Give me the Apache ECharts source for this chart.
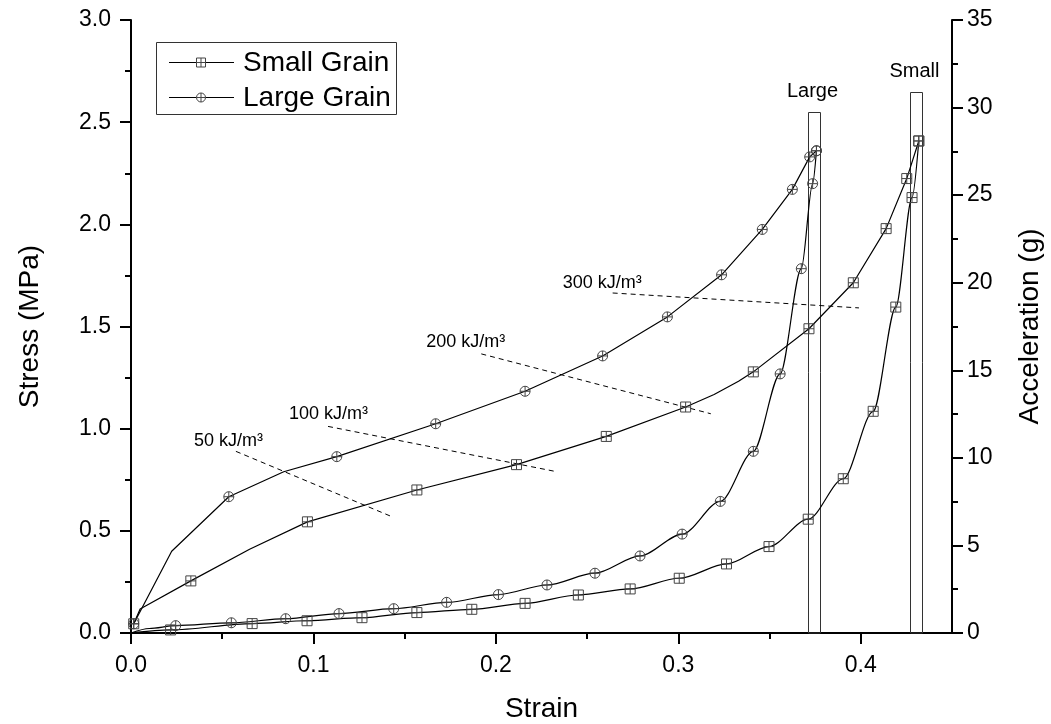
<!DOCTYPE html>
<html><head><meta charset="utf-8">
<script src="https://cdn.jsdelivr.net/npm/echarts@6/dist/echarts.min.js"></script>
<style>html,body{margin:0;padding:0;background:#fff}#c{width:1051px;height:724px}</style>
</head><body><div id="c"></div>
<script>
// ---------- data ----------
const xAxisName = 'Strain';
const yLeftName = 'Stress (MPa)';
const yRightName = 'Acceleration (g)';
const xTickValues = [0, 0.1, 0.2, 0.3, 0.4];

const seriesNames = ['Small Grain', 'Large Grain'];

// stress (upper) curves
const smallStress = [[0.0015,0.045],[0.005,0.117],[0.0328,0.255],[0.065,0.41],[0.0967,0.544],[0.1567,0.70],[0.2113,0.824],[0.2605,0.962],[0.304,1.106],[0.3196,1.167],[0.333,1.232],[0.3411,1.278],[0.3716,1.489],[0.3959,1.714],[0.4139,1.979],[0.4252,2.224],[0.4318,2.408]];
const smallStressMarks = [0,2,4,5,6,7,8,11,12,13,14,15,16];
const largeStress = [[0.0015,0.045],[0.0223,0.40],[0.0536,0.667],[0.0837,0.789],[0.1128,0.863],[0.167,1.024],[0.216,1.183],[0.2585,1.356],[0.294,1.547],[0.3237,1.753],[0.346,1.975],[0.3625,2.171],[0.372,2.33],[0.3757,2.36]];
const largeStressMarks = [0,2,4,5,6,7,8,9,10,11,12,13];

// lower curves
const largeLower = [[0,0],[0.01,0.022],[0.0245,0.036],[0.055,0.05],[0.0848,0.07],[0.114,0.095],[0.144,0.119],[0.173,0.150],[0.2014,0.188],[0.228,0.235],[0.2543,0.2926],[0.279,0.377],[0.3021,0.484],[0.323,0.644],[0.3411,0.889],[0.3558,1.268],[0.3674,1.783],[0.3736,2.199],[0.3757,2.36]];
const largeLowerMarks = [2,3,4,5,6,7,8,9,10,11,12,13,14,15,16,17,18];
const smallLower = [[0,0],[0.0217,0.015],[0.0664,0.046],[0.0965,0.06],[0.1266,0.075],[0.1567,0.10],[0.1868,0.116],[0.216,0.145],[0.2452,0.186],[0.2736,0.2157],[0.3005,0.268],[0.3264,0.338],[0.3497,0.423],[0.3712,0.557],[0.3904,0.755],[0.4068,1.085],[0.4192,1.595],[0.4281,2.131],[0.4318,2.408]];
const smallLowerMarks = [1,2,3,4,5,6,7,8,9,10,11,12,13,14,15,16,17,18];

// energy iso-lines
const energyLabels = ['50 kJ/m³', '100 kJ/m³', '200 kJ/m³', '300 kJ/m³'];
const energyLines = [
  [[0.0575,0.889],[0.1436,0.567]],
  [[0.108,1.011],[0.233,0.79]],
  [[0.192,1.366],[0.3178,1.073]],
  [[0.264,1.664],[0.399,1.591]]
];

// peak acceleration bars
const peakLabels = ['Large', 'Small'];
const peakStrainFrom = [0.3712, 0.4270];
const peakStrainTo = [0.3776, 0.4335];
const peakAccel = [29.75, 30.9];

// ---------- styles ----------
const FONT = '"Liberation Sans", Arial, sans-serif';
const SQ = 'path://M0,0 L10,0 L10,10 L0,10 Z M5,0 L5,10 M0,5 L10,5';
const CI = 'path://M10,5 A5,5 0 1 1 0,5 A5,5 0 1 1 10,5 Z M5,0 L5,10 M0,5 L10,5';
const energyLabelOffset = [[-42,-10],[-39,-12],[-55,-12],[-50,-10]];

function curve(name, pts, marks, sym, smooth) {
  const ms = new Set(marks);
  return {
    name, type: 'line', yAxisIndex: 0, smooth: smooth, smoothMonotone: smooth ? 'x' : undefined,
    showSymbol: true, symbolSize: 10, z: 3,
    lineStyle: { color: '#000', width: 1.2 },
    itemStyle: { color: 'rgba(255,255,255,0)', borderColor: '#444', borderWidth: 1 },
    emphasis: { disabled: true },
    data: pts.map((p, i) => ({ value: p, symbol: ms.has(i) ? sym : 'none' }))
  };
}

const series = [
  curve(seriesNames[0], smallStress, smallStressMarks, SQ, false),
  curve(seriesNames[1], largeStress, largeStressMarks, CI, false),
  curve(seriesNames[1], largeLower, largeLowerMarks, CI, 0.3),
  curve(seriesNames[0], smallLower, smallLowerMarks, SQ, 0.3)
];
energyLines.forEach((seg) => {
  series.push({
    type: 'line', yAxisIndex: 0, symbol: 'none', silent: true, z: 2,
    lineStyle: { color: '#000', width: 1, type: [5, 4] },
    data: seg
  });
});
series.push({
  type: 'custom', yAxisIndex: 1, silent: true, z: 1,
  encode: { x: [0, 1], y: 2 },
  data: peakAccel.map((a, i) => [peakStrainFrom[i], peakStrainTo[i], a]),
  renderItem: (params, api) => {
    const bl = api.coord([api.value(0), 0]);
    const tr = api.coord([api.value(1), api.value(2)]);
    const x0 = Math.round(bl[0]) + 0.5, x1 = Math.round(tr[0]) + 0.5, yt = Math.round(tr[1]) + 0.5;
    return { type: 'group', children: [
      { type: 'rect', shape: { x: x0, y: yt, width: x1 - x0, height: bl[1] - yt },
        style: { fill: 'none', stroke: '#333', lineWidth: 1 } },
      { type: 'text', x: (x0 + x1) / 2 - 2, y: yt - 11,
        style: { text: peakLabels[params.dataIndex], font: '20px ' + FONT, fill: '#000', align: 'center', verticalAlign: 'bottom' } }
    ]};
  }
});

const axisCommon = {
  axisLine: { show: true, lineStyle: { color: '#000', width: 2 } },
  axisTick: { show: true, inside: false, length: 11, lineStyle: { color: '#000', width: 2 } },
  minorTick: { show: true, splitNumber: 2, length: 6, lineStyle: { color: '#000', width: 2 } },
  splitLine: { show: false },
  minorSplitLine: { show: false },
  nameTextStyle: { fontFamily: FONT, fontSize: 28, color: '#000' },
  nameLocation: 'middle'
};

const option = {
  animation: false,
  backgroundColor: '#fff',
  grid: { left: 131, right: 99, top: 20, bottom: 91, containLabel: false, outerBoundsMode: 'none' },
  xAxis: Object.assign({}, axisCommon, {
    type: 'value', min: 0, max: 0.45, interval: 0.1,
    name: xAxisName, nameGap: 62,
    axisTick: Object.assign({}, axisCommon.axisTick, { customValues: xTickValues }),
    axisLabel: { customValues: xTickValues, margin: 21, fontFamily: FONT, fontSize: 23, color: '#000', formatter: v => v.toFixed(1) }
  }),
  yAxis: [
    Object.assign({}, axisCommon, {
      type: 'value', min: 0, max: 3, interval: 0.5, position: 'left',
      name: yLeftName, nameGap: 87, nameRotate: 90,
      axisLabel: { margin: 20, fontFamily: FONT, fontSize: 23, color: '#000', formatter: v => v.toFixed(1) }
    }),
    Object.assign({}, axisCommon, {
      type: 'value', min: 0, max: 35, interval: 5, position: 'right',
      name: yRightName, nameGap: 64, nameRotate: 90,
      axisLabel: { margin: 15, fontFamily: FONT, fontSize: 23, color: '#000' }
    })
  ],
  series
};

const chart = echarts.init(document.getElementById('c'), null, { renderer: 'canvas' });
chart.setOption(option);

// energy labels + legend as graphics
const graphics = [];
energyLines.forEach((seg, i) => {
  const p = chart.convertToPixel({ xAxisIndex: 0, yAxisIndex: 0 }, seg[0]);
  graphics.push({ type: 'text', x: p[0] + energyLabelOffset[i][0], y: p[1] + energyLabelOffset[i][1],
    style: { text: energyLabels[i], font: '18px ' + FONT, fill: '#000', align: 'left', verticalAlign: 'middle' } });
});
const lg = { left: 156, top: 42, w: 240, h: 72, rows: [62, 97], lineX0: 169, lineX1: 234, symX: 201, textX: 243 };
graphics.push({ type: 'rect', shape: { x: lg.left + 0.5, y: lg.top + 0.5, width: lg.w, height: lg.h }, style: { fill: '#fff', stroke: '#333', lineWidth: 1 }, z: 10 });
lg.rows.forEach((y, i) => {
  graphics.push({ type: 'line', shape: { x1: lg.lineX0, y1: y + 0.5, x2: lg.lineX1, y2: y + 0.5 }, style: { stroke: '#000', lineWidth: 1.2 }, z: 11 });
  if (i === 0) {
    graphics.push({ type: 'rect', shape: { x: lg.symX - 4.5, y: y - 4, width: 9, height: 9 }, style: { fill: '#fff', stroke: '#444', lineWidth: 1 }, z: 12 });
  } else {
    graphics.push({ type: 'circle', shape: { cx: lg.symX, cy: y + 0.5, r: 4.5 }, style: { fill: '#fff', stroke: '#444', lineWidth: 1 }, z: 12 });
  }
  graphics.push({ type: 'line', shape: { x1: lg.symX, y1: y - 4, x2: lg.symX, y2: y + 5 }, style: { stroke: '#444', lineWidth: 1 }, z: 13 });
  graphics.push({ type: 'line', shape: { x1: lg.symX - 4.5, y1: y + 0.5, x2: lg.symX + 4.5, y2: y + 0.5 }, style: { stroke: '#444', lineWidth: 1 }, z: 13 });
  graphics.push({ type: 'text', x: lg.textX, y: y + 1, style: { text: seriesNames[i], font: '28px ' + FONT, fill: '#000', align: 'left', verticalAlign: 'middle' }, z: 12 });
});
chart.setOption({ graphic: graphics });
</script></body></html>
